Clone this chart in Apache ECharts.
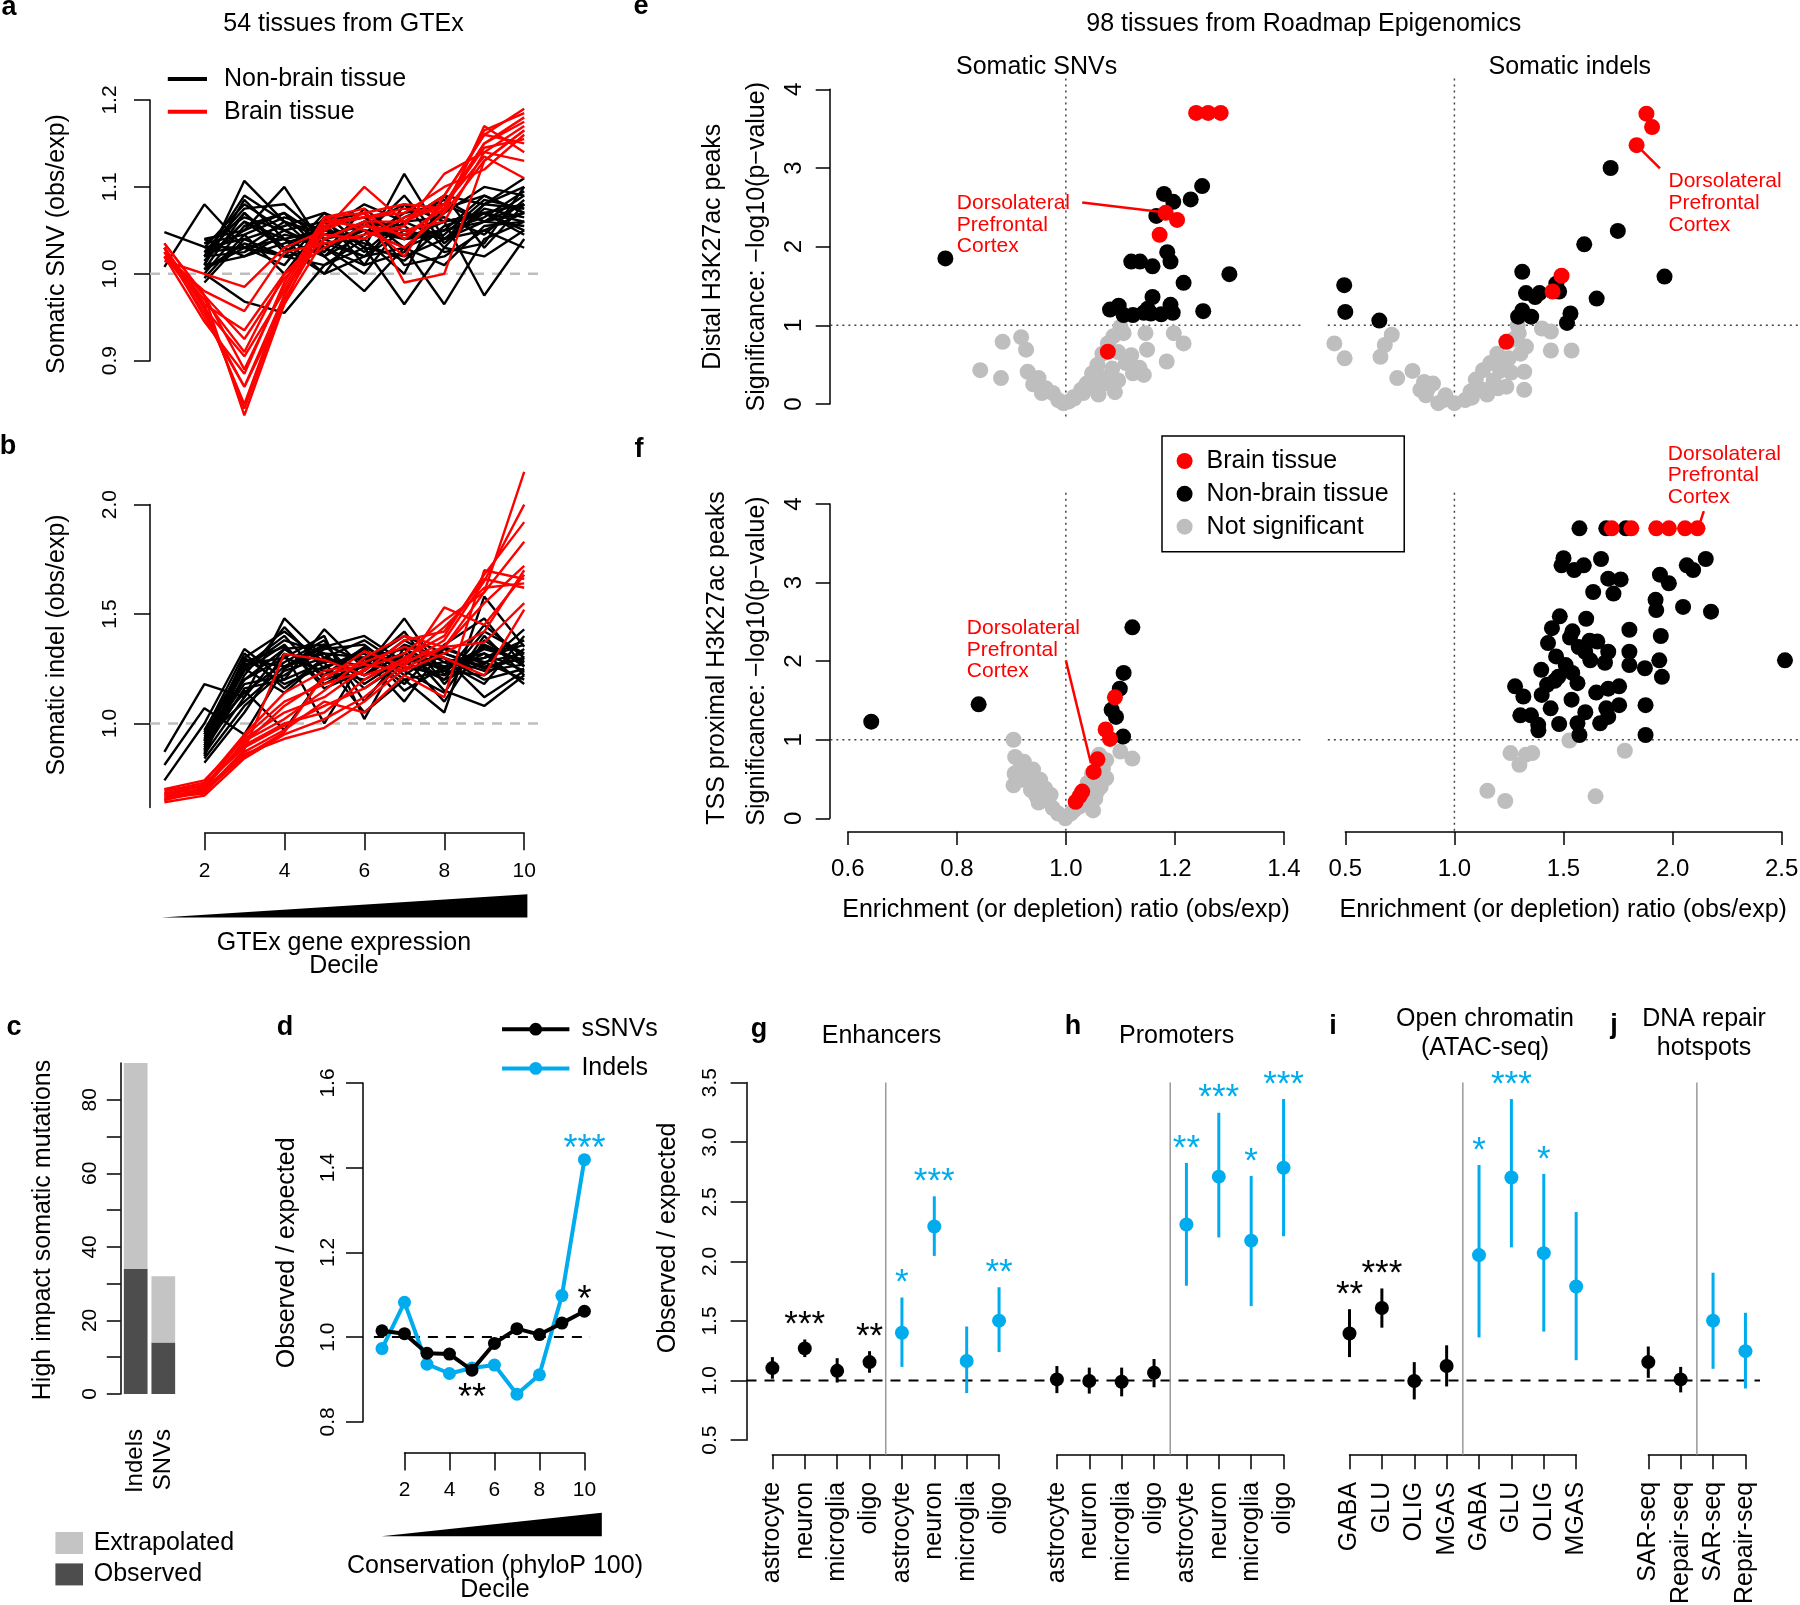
<!DOCTYPE html>
<html>
<head>
<meta charset="utf-8">
<title>Somatic mutations - expression, conservation and regulatory elements</title>
<script src="https://cdn.jsdelivr.net/npm/echarts@6/dist/echarts.min.js"></script>
<style>
  html, body { margin: 0; padding: 0; background: #fff; }
  #main { width: 1800px; height: 1605px; }
</style>
</head>
<body>
<div id="main"></div>
<script>
const FONT = '"Liberation Sans", Arial, Helvetica, sans-serif';
const RED = '#ff0000';
const BLUE = '#00acee';
const GREY = '#bebebe';

// ---------- a / b : 54 GTEx tissues, expression deciles ----------
const deciles = [1, 2, 3, 4, 5, 6, 7, 8, 9, 10];
const snvTicks = [0.9, 1.0, 1.1, 1.2];
const indelTicks = [1.0, 1.5, 2.0];
const decileTicks = [2, 4, 6, 8, 10];

const snvBrain = [
  [1.035, 0.975, 0.837, 0.965, 1.04, 1.06, 1.06, 1.09, 1.16, 1.19],
  [1.03, 0.965, 0.845, 0.97, 1.05, 1.07, 1.04, 1.08, 1.15, 1.18],
  [1.025, 0.955, 0.87, 0.975, 1.06, 1.055, 1.05, 1.06, 1.14, 1.17],
  [1.02, 0.945, 0.885, 0.99, 1.065, 1.05, 1.03, 1.07, 1.13, 1.165],
  [1.03, 0.96, 0.905, 0.98, 1.055, 1.065, 1.07, 1.10, 1.12, 1.16],
  [1.025, 0.97, 0.91, 1.0, 1.045, 1.04, 1.065, 1.08, 1.145, 1.155],
  [1.035, 0.975, 0.925, 0.995, 1.04, 1.06, 1.02, 1.09, 1.16, 1.15],
  [1.02, 0.98, 0.957, 1.025, 1.035, 1.045, 1.055, 1.115, 1.14, 1.13],
  [1.015, 1.0, 0.985, 1.03, 1.05, 1.10, 1.06, 1.08, 1.135, 1.11],
  [1.03, 0.95, 0.87, 0.965, 1.065, 1.075, 0.99, 1.0, 1.13, 1.165],
  [1.025, 0.975, 0.89, 0.985, 1.06, 1.065, 1.075, 1.07, 1.17, 1.14],
  [1.02, 0.965, 0.935, 1.0, 1.03, 1.055, 1.045, 1.075, 1.15, 1.175],
  [1.03, 0.96, 0.85, 0.975, 1.065, 1.07, 1.08, 1.075, 1.165, 1.185]
];
const snvNonBrain = [
  [1.048, 1.031, 1.03, 1.02, 1.03, 1.05, 1.04, 1.06, 1.07, 1.08],
  [1.008, 1.08, 1.03, 1.04, 1.02, 1.06, 1.05, 1.04, 1.06, 1.07],
  [null, 1.01, 1.107, 1.06, 1.04, 1.02, 1.03, 1.05, 1.06, 1.09],
  [null, 1.02, 1.05, 1.10, 1.03, 1.01, 1.08, 1.06, 1.07, 1.06],
  [null, 1.0, 0.968, 0.955, 1.01, 1.03, 1.02, 1.04, 1.05, 1.07],
  [null, 1.03, 1.08, 1.05, 1.06, 1.03, 1.115, 1.04, 1.08, 1.10],
  [null, 1.015, 1.06, 1.04, 1.05, 1.08, 1.06, 1.09, 1.08, 1.11],
  [null, 0.99, 1.04, 1.02, 1.07, 1.03, 0.965, 1.03, 1.02, 1.05],
  [null, 1.005, 1.03, 1.06, 1.02, 0.98, 1.03, 0.965, 1.04, 1.06],
  [null, 1.02, 1.07, 1.03, 1.0, 1.02, 1.05, 1.06, 0.975, 1.04],
  [null, 1.04, 1.05, 1.07, 1.04, 1.06, 1.04, 1.05, 1.09, 1.07],
  [null, 1.01, 1.02, 1.035, 1.05, 1.04, 1.07, 1.08, 1.06, 1.08],
  [null, 1.025, 1.075, 1.08, 1.04, 1.05, 1.03, 1.07, 1.10, 1.09],
  [null, 0.995, 1.045, 1.0, 1.06, 1.07, 1.01, 1.02, 1.05, 1.03],
  [null, 1.035, 1.065, 1.05, 1.03, 1.0, 1.06, 1.04, 1.07, 1.05],
  [null, 1.02, 1.09, 1.06, 1.045, 1.055, 1.08, 1.03, 1.08, 1.075],
  [null, 1.005, 1.035, 1.02, 1.01, 1.04, 1.0, 1.09, 1.03, 1.08],
  [null, 1.03, 1.04, 1.055, 1.07, 1.05, 1.045, 1.05, 1.065, 1.095],
  [null, 1.015, 1.06, 1.03, 1.055, 1.065, 1.03, 1.01, 1.055, 1.06],
  [null, 1.04, 1.02, 1.045, 1.035, 1.02, 1.06, 1.065, 1.045, 1.085],
  [null, 1.0, 1.055, 1.07, 1.02, 1.045, 1.09, 1.035, 1.075, 1.065],
  [null, 1.025, 1.03, 1.01, 1.065, 1.01, 1.025, 1.075, 1.09, 1.07],
  [null, 1.01, 1.085, 1.04, 1.0, 1.06, 1.055, 1.025, 1.035, 1.10],
  [null, 1.035, 1.045, 1.065, 1.05, 1.035, 1.015, 1.055, 1.07, 1.045],
  [null, 1.02, 1.025, 1.05, 1.025, 1.075, 1.04, 1.045, 1.085, 1.075],
  [null, 1.005, 1.07, 1.025, 1.055, 1.025, 1.065, 1.085, 1.06, 1.055]
];
const indelBrain = [
  [0.66, 0.70, 0.86, 0.93, 0.98, 1.10, 1.25, 1.35, 1.60, 2.15],
  [0.64, 0.67, 0.84, 0.95, 1.02, 1.12, 1.27, 1.38, 1.65, 2.00],
  [0.68, 0.72, 0.90, 1.00, 1.05, 1.20, 1.30, 1.40, 1.68, 1.92],
  [0.70, 0.74, 0.93, 1.05, 1.12, 1.25, 1.32, 1.47, 1.60, 1.83],
  [0.67, 0.69, 0.88, 1.318, 1.29, 1.22, 1.28, 1.35, 1.55, 1.72],
  [0.65, 0.71, 0.91, 1.08, 1.20, 1.33, 1.26, 1.53, 1.45, 1.68],
  [0.69, 0.73, 0.95, 1.14, 1.24, 1.28, 1.35, 1.30, 1.22, 1.52],
  [0.66, 0.68, 0.87, 0.97, 1.10, 1.05, 1.22, 1.12, 1.70, 1.66],
  [0.68, 0.70, 0.92, 1.02, 1.15, 1.30, 1.40, 1.35, 1.37, 1.55],
  [0.67, 0.72, 0.89, 0.99, 1.08, 1.16, 1.29, 1.44, 1.62, 1.64],
  [0.65, 0.69, 0.85, 0.96, 1.22, 1.27, 1.24, 1.32, 1.42, 1.70],
  [0.70, 0.71, 0.94, 1.10, 1.18, 1.24, 1.38, 1.42, 1.66, 1.62]
];
const indelNonBrain = [
  [0.87, 1.18, 1.12, 1.48, 1.30, 1.22, 1.32, 1.25, 1.35, 1.28],
  [0.81, 1.07, 0.95, 1.25, 1.35, 1.40, 1.28, 1.30, 1.20, 1.25],
  [0.74, 1.00, 1.34, 1.20, 1.43, 1.25, 1.48, 1.22, 1.45, 1.30],
  [null, 0.92, 1.30, 1.42, 1.28, 1.05, 1.20, 1.05, 1.58, 1.35],
  [null, 0.88, 1.25, 1.38, 1.32, 1.30, 1.10, 1.35, 1.27, 1.43],
  [null, 0.95, 1.20, 1.30, 1.40, 1.02, 1.35, 1.15, 1.08, 1.22],
  [null, 0.90, 1.15, 0.97, 1.22, 1.35, 1.25, 1.28, 1.32, 1.18],
  [null, 0.85, 1.28, 1.35, 1.18, 1.28, 1.40, 1.32, 1.25, 1.30],
  [null, 0.93, 1.10, 1.26, 1.36, 1.18, 1.30, 1.10, 1.38, 1.26],
  [null, 0.87, 1.22, 1.44, 1.25, 1.34, 1.15, 1.26, 1.30, 1.38],
  [null, 0.96, 1.32, 1.16, 1.30, 1.22, 1.36, 1.30, 1.12, 1.24],
  [null, 0.82, 1.05, 1.32, 1.00, 1.30, 1.28, 1.20, 1.42, 1.32],
  [null, 0.91, 1.18, 1.22, 1.34, 1.36, 1.22, 1.34, 1.28, 1.20],
  [null, 0.89, 1.26, 1.40, 1.20, 1.26, 1.42, 1.18, 1.36, 1.28],
  [null, 0.94, 1.14, 1.28, 1.38, 1.10, 1.32, 1.24, 1.22, 1.34],
  [null, 0.86, 1.30, 1.18, 1.26, 1.32, 1.18, 1.36, 1.48, 1.26],
  [null, 0.92, 1.24, 1.36, 1.16, 1.24, 1.38, 1.28, 1.18, 1.40],
  [null, 0.84, 1.08, 1.24, 1.30, 1.38, 1.26, 1.22, 1.32, 1.24],
  [null, 0.97, 1.27, 1.30, 1.24, 1.20, 1.30, 1.32, 1.26, 1.30],
  [null, 0.90, 1.20, 1.34, 1.36, 1.28, 1.24, 1.14, 1.40, 1.22],
  [null, 0.88, 1.16, 1.20, 1.28, 1.30, 1.34, 1.26, 1.30, 1.36],
  [null, 0.93, 1.29, 1.26, 1.32, 1.16, 1.28, 1.30, 1.24, 1.27],
  [null, 0.86, 1.12, 1.34, 1.22, 1.34, 1.20, 1.24, 1.34, 1.29],
  [null, 0.95, 1.25, 1.14, 1.30, 1.26, 1.32, 1.20, 1.28, 1.32]
];

// ---------- c : high impact somatic mutations ----------
const mutationTypes = ['Indels', 'SNVs'];
const highImpactObserved = [34, 14];
const highImpactExtrapolated = [56, 18];
const countTicks = [0, 10, 20, 30, 40, 50, 60, 70, 80];
const countLabels = [0, 20, 40, 60, 80];

// ---------- d : conservation deciles ----------
const consSnv = [1.015, 1.008, 0.962, 0.960, 0.922, 0.985, 1.020, 1.006, 1.033, 1.061];
const consIndel = [0.973, 1.082, 0.936, 0.914, 0.927, 0.934, 0.865, 0.911, 1.098, 1.419];
const consSnvStars = ['', '', '', '', '**', '', '', '', '', '*'];
const consIndelStars = ['', '', '', '', '', '', '', '', '', '***'];
const consTicks = [0.8, 1.0, 1.2, 1.4, 1.6];

// ---------- e / f : 98 Roadmap tissues, [ratio, -log10 p] ----------
const ratioTicksSnv = [0.6, 0.8, 1.0, 1.2, 1.4];
const ratioTicksIndel = [0.5, 1.0, 1.5, 2.0, 2.5];
const sigTicks = [0, 1, 2, 3, 4];

const distalSnvBrain = [[1.239, 3.7], [1.261, 3.7], [1.284, 3.7], [1.183, 2.43], [1.204, 2.34], [1.172, 2.15], [1.077, 0.665]];
const distalSnvNonBrain = [[0.779, 1.85], [1.180, 2.67], [1.197, 2.57], [1.229, 2.60], [1.250, 2.77], [1.166, 2.39], [1.186, 1.93],
  [1.192, 1.81], [1.120, 1.81], [1.136, 1.81], [1.159, 1.75], [1.216, 1.54], [1.300, 1.65], [1.159, 1.36], [1.081, 1.20],
  [1.097, 1.25], [1.123, 1.13], [1.143, 1.16], [1.156, 1.15], [1.192, 1.26], [1.196, 1.16], [1.252, 1.18], [1.150, 1.21],
  [1.175, 1.14], [1.106, 1.13]];
const distalSnvNs = [[0.884, 0.79], [0.918, 0.85], [0.927, 0.69], [0.843, 0.43], [0.881, 0.33], [0.930, 0.41], [0.950, 0.33],
  [0.963, 0.20], [0.976, 0.14], [0.986, 0.05], [0.995, 0.01], [1.005, 0.03], [1.015, 0.09], [1.028, 0.18], [1.038, 0.26],
  [1.048, 0.39], [1.058, 0.50], [1.067, 0.64], [1.077, 0.77], [1.087, 0.86], [1.100, 0.98], [1.106, 0.90], [1.096, 0.66],
  [1.110, 0.52], [1.123, 0.39], [1.143, 0.37], [1.146, 0.90], [1.149, 0.69], [1.185, 0.54], [1.198, 0.90], [1.216, 0.77],
  [1.077, 0.26], [1.051, 0.22], [1.032, 0.14], [1.015, 0.07], [1.064, 0.34], [1.096, 0.30], [0.956, 0.14], [0.940, 0.25],
  [1.085, 0.45], [1.120, 0.62], [1.135, 0.46], [1.090, 0.15], [1.060, 0.12]];

const distalIndelBrain = [[1.880, 3.69], [1.906, 3.52], [1.835, 3.29], [1.491, 1.63], [1.450, 1.43], [1.238, 0.79]];
const distalIndelNonBrain = [[1.716, 3.0], [1.749, 2.20], [1.595, 2.03], [1.963, 1.62], [1.311, 1.68], [1.467, 1.53], [1.328, 1.41],
  [1.390, 1.41], [1.480, 1.43], [1.652, 1.34], [1.311, 1.19], [1.292, 1.11], [1.352, 1.11], [1.532, 1.15], [1.516, 1.03],
  [0.495, 1.51], [0.500, 1.17], [0.656, 1.06], [1.370, 1.36]];
const distalIndelNs = [[0.45, 0.77], [0.497, 0.58], [0.713, 0.88], [0.681, 0.75], [0.661, 0.60], [0.738, 0.33], [0.808, 0.42],
  [0.861, 0.28], [0.902, 0.26], [0.844, 0.18], [0.869, 0.11], [0.926, 0.01], [0.959, 0.11], [1.0, 0.01], [1.049, 0.05],
  [1.074, 0.16], [1.131, 0.18], [1.098, 0.31], [1.131, 0.43], [1.164, 0.52], [1.197, 0.64], [1.23, 0.55], [1.238, 0.22],
  [1.26, 0.40], [1.295, 0.90], [1.303, 0.64], [1.328, 0.73], [1.320, 0.41], [1.320, 0.18], [1.401, 0.96], [1.442, 0.92],
  [1.442, 0.68], [1.537, 0.68], [1.18, 0.30], [1.21, 0.42], [1.25, 0.58], [1.15, 0.12], [1.27, 0.82], [1.29, 1.0],
  [0.88, 0.20], [0.95, 0.05], [1.08, 0.08], [1.20, 0.20]];

const tssSnvBrain = [[1.090, 1.54], [1.073, 1.13], [1.081, 1.01], [1.058, 0.75], [1.051, 0.59], [1.030, 0.34], [1.018, 0.21], [1.025, 0.28]];
const tssSnvNonBrain = [[0.643, 1.23], [0.840, 1.45], [1.122, 2.43], [1.106, 1.85], [1.099, 1.65], [1.084, 1.38], [1.092, 1.29], [1.105, 1.04]];
const tssSnvNs = [[0.904, 1.0], [0.907, 0.78], [0.923, 0.72], [0.906, 0.57], [0.904, 0.42], [0.940, 0.62], [0.953, 0.49],
  [0.920, 0.49], [0.936, 0.36], [0.946, 0.28], [0.959, 0.23], [0.972, 0.30], [0.976, 0.13], [0.986, 0.06], [0.999, 0.0],
  [1.009, 0.06], [1.025, 0.15], [1.045, 0.19], [1.054, 0.25], [1.064, 0.40], [1.074, 0.51], [1.048, 0.57], [1.061, 0.81],
  [1.074, 0.74], [1.100, 0.85], [1.122, 0.76], [1.040, 0.45], [0.946, 0.45], [1.035, 0.35], [1.058, 0.35], [0.930, 0.55],
  [0.962, 0.38], [1.015, 0.10], [1.068, 0.63], [0.915, 0.62], [0.950, 0.20], [1.050, 0.10]];

const tssIndelBrain = [[1.721, 3.69], [1.811, 3.69], [1.925, 3.69], [1.983, 3.69], [2.057, 3.69], [2.114, 3.69]];
const tssIndelNonBrain = [[1.573, 3.69], [1.696, 3.69], [1.786, 3.69],
  [1.500, 3.31], [1.491, 3.22], [1.549, 3.16], [1.593, 3.22], [1.672, 3.30], [1.705, 3.05], [1.762, 3.04], [1.636, 2.88],
  [1.729, 2.86], [1.942, 3.10], [1.983, 2.99], [2.065, 3.22], [2.094, 3.16], [2.152, 3.30], [1.922, 2.78], [1.925, 2.65],
  [2.048, 2.69], [2.176, 2.63], [1.483, 2.57], [1.604, 2.54], [1.447, 2.42], [1.541, 2.38], [1.802, 2.40], [1.946, 2.32],
  [1.429, 2.23], [1.570, 2.18], [1.655, 2.25], [1.705, 2.12], [1.466, 2.06], [1.599, 2.12], [1.623, 2.01], [1.802, 2.12],
  [1.802, 1.95], [1.873, 1.91], [1.939, 2.01], [1.951, 1.80], [2.515, 2.01], [1.398, 1.89], [1.476, 1.80], [1.540, 1.85],
  [1.564, 1.72], [1.425, 1.70], [1.278, 1.68], [1.316, 1.55], [1.400, 1.57], [1.537, 1.51], [1.705, 1.65], [1.755, 1.68],
  [1.441, 1.40], [1.302, 1.31], [1.351, 1.31], [1.384, 1.19], [1.385, 1.12], [1.564, 1.21], [1.573, 1.06], [1.696, 1.40],
  [1.755, 1.44], [1.705, 1.29], [1.668, 1.21], [1.876, 1.44], [1.876, 1.06], [1.530, 2.30], [1.620, 2.26], [1.460, 1.75],
  [1.510, 1.95], [1.650, 1.60], [1.480, 1.20], [1.600, 1.35], [1.690, 1.98]];
const tssIndelNs = [[1.527, 0.99], [1.257, 0.83], [1.298, 0.68], [1.328, 0.81], [1.357, 0.83], [1.781, 0.86], [1.151, 0.35], [1.233, 0.22], [1.647, 0.28]];

// ---------- g - j : cell types, [obs/exp, low, high] ----------
const oeTicks = [0.5, 1.0, 1.5, 2.0, 2.5, 3.0, 3.5];
const brainCells = ['astrocyte', 'neuron', 'microglia', 'oligo'];
const atacCells = ['GABA', 'GLU', 'OLIG', 'MGAS'];
const repairAssays = ['SAR-seq', 'Repair-seq'];

const enhSnv = [[1.105, 1.016, 1.197], [1.270, 1.197, 1.345], [1.082, 0.984, 1.188], [1.155, 1.066, 1.247]];
const enhIndel = [[1.401, 1.115, 1.697], [2.293, 2.046, 2.546], [1.164, 0.895, 1.454], [1.503, 1.240, 1.783]];
const promSnv = [[1.010, 0.895, 1.122], [0.997, 0.891, 1.109], [0.990, 0.868, 1.109], [1.066, 0.944, 1.181]];
const promIndel = [[2.309, 1.796, 2.826], [2.711, 2.201, 3.247], [2.174, 1.625, 2.717], [2.786, 2.211, 3.362]];
const atacSnv = [[1.395, 1.197, 1.599], [1.609, 1.444, 1.773], [0.997, 0.842, 1.155], [1.122, 0.951, 1.296]];
const atacIndel = [[2.053, 1.362, 2.809], [2.704, 2.118, 3.362], [2.069, 1.411, 2.734], [1.789, 1.171, 2.414]];
const repairSnv = [[1.155, 1.023, 1.286], [1.010, 0.901, 1.115]];
const repairIndel = [[1.503, 1.099, 1.905], [1.247, 0.934, 1.569]];

const enhSnvStars = ['', '***', '', '**'];
const enhIndelStars = ['*', '***', '', '**'];
const promSnvStars = ['', '', '', ''];
const promIndelStars = ['**', '***', '*', '***'];
const atacSnvStars = ['**', '***', '', ''];
const atacIndelStars = ['*', '***', '*', ''];
const repairSnvStars = ['', ''];
const repairIndelStars = ['', ''];

// ================= build the chart =================
const grids = [], xAxes = [], yAxes = [], series = [], graphics = [];

function fmt1(v) { return Number(v).toFixed(1); }

function addGrid(box) {
  grids.push(Object.assign({ containLabel: false, outerBoundsMode: 'none' }, box));
  return grids.length - 1;
}

function valAxis(grid, min, max, o) {
  o = o || {};
  if (o.hidden) return { type: 'value', gridIndex: grid, min, max, show: false, splitLine: { show: false } };
  return {
    type: 'value', gridIndex: grid, min, max, offset: o.offset || 0,
    splitLine: { show: false },
    axisLine: { show: true, onZero: false, lineStyle: { color: '#000', width: 1.5 } },
    axisTick: { show: true, inside: false, length: o.tickLen || 15, customValues: o.ticks,
      lineStyle: { color: '#000', width: 1.5 } },
    axisLabel: { show: true, customValues: o.labels || o.ticks, formatter: o.fmt || (v => String(v)),
      margin: o.margin, rotate: o.rotate || 0, fontSize: o.fontSize || 21, fontFamily: FONT, color: '#000' }
  };
}

// plot regions of a, b and d run from decile 0.64 to 10.36 (R's 4% padding)
const DEC_MIN = 0.64, DEC_MAX = 10.36;

// --- a
const gA = addGrid({ left: 150, top: 100, width: 388.6, height: 260.7 });
xAxes.push(valAxis(gA, DEC_MIN, DEC_MAX, { hidden: true }));
yAxes.push(valAxis(gA, 0.9, 1.2, { ticks: snvTicks, fmt: fmt1, tickLen: 16, margin: 29, rotate: 90 }));
// --- b
const gB = addGrid({ left: 150, top: 504.6, width: 388.6, height: 302.9 });
xAxes.push(valAxis(gB, DEC_MIN, DEC_MAX, { hidden: true }));
yAxes.push(valAxis(gB, 0.616, 2.0, { ticks: indelTicks, fmt: fmt1, tickLen: 16, margin: 29, rotate: 90 }));
// b: visible decile axis (2..10 only)
const gBx = addGrid({ left: 204.6, top: 504.6, width: 319.6, height: 302.9 });
xAxes.push(valAxis(gBx, 2, 10, { offset: 25.7, ticks: decileTicks, tickLen: 17, margin: 28 }));
yAxes.push(valAxis(gBx, 0.616, 2.0, { hidden: true }));
// --- c
const gC = addGrid({ left: 121.9, top: 1063, width: 55.2, height: 331 });
xAxes.push({ type: 'category', gridIndex: gC, data: mutationTypes,
  axisLine: { show: false }, axisTick: { show: false }, splitLine: { show: false },
  axisLabel: { interval: 0, rotate: 90, margin: 35, fontSize: 24, fontFamily: FONT, color: '#000' } });
yAxes.push(valAxis(gC, 0, 90, { offset: 1.3, ticks: countTicks, labels: countLabels, tickLen: 13.8, margin: 20, rotate: 90 }));
// --- d
const gD = addGrid({ left: 373.9, top: 1083, width: 218.6, height: 338.8 });
xAxes.push(valAxis(gD, DEC_MIN, DEC_MAX, { hidden: true }));
yAxes.push(valAxis(gD, 0.8, 1.6, { offset: 10.9, ticks: consTicks, fmt: fmt1, tickLen: 17, margin: 24.3, rotate: 90 }));
const gDx = addGrid({ left: 404.5, top: 1083, width: 179.9, height: 338.8 });
xAxes.push(valAxis(gDx, 2, 10, { offset: 31, ticks: decileTicks, tickLen: 17.6, margin: 26.7 }));
yAxes.push(valAxis(gDx, 0.8, 1.6, { hidden: true }));
// --- e (left / right)
const gEL = addGrid({ left: 847.8, top: 89.3, width: 436.1, height: 314.7 });
xAxes.push(valAxis(gEL, 0.6, 1.4, { hidden: true }));
yAxes.push(valAxis(gEL, 0, 4, { offset: 17.8, ticks: sigTicks, tickLen: 14.3, margin: 23.7, rotate: 90, fontSize: 24 }));
const gER = addGrid({ left: 1345.3, top: 89.3, width: 436.4, height: 314.7 });
xAxes.push(valAxis(gER, 0.5, 2.5, { hidden: true }));
yAxes.push(valAxis(gER, 0, 4, { hidden: true }));
// --- f (left / right)
const gFL = addGrid({ left: 847.8, top: 504, width: 436.1, height: 314.3 });
xAxes.push(valAxis(gFL, 0.6, 1.4, { offset: 13.4, ticks: ratioTicksSnv, fmt: fmt1, tickLen: 13.3, margin: 25.6, fontSize: 24 }));
yAxes.push(valAxis(gFL, 0, 4, { offset: 17.8, ticks: sigTicks, tickLen: 14.3, margin: 23.7, rotate: 90, fontSize: 24 }));
const gFR = addGrid({ left: 1345.3, top: 504, width: 436.4, height: 314.3 });
xAxes.push(valAxis(gFR, 0.5, 2.5, { offset: 13.4, ticks: ratioTicksIndel, fmt: fmt1, tickLen: 13.3, margin: 25.6, fontSize: 24 }));
yAxes.push(valAxis(gFR, 0, 4, { hidden: true }));

// --- g..j : one grid per x-axis segment, y shared
const STEP = 32.38;
const segments = [
  { left: 772.4, names: brainCells, snv: enhSnv, indel: enhIndel, snvStars: enhSnvStars, indelStars: enhIndelStars },
  { left: 1056.9, names: brainCells, snv: promSnv, indel: promIndel, snvStars: promSnvStars, indelStars: promIndelStars },
  { left: 1349.5, names: atacCells, snv: atacSnv, indel: atacIndel, snvStars: atacSnvStars, indelStars: atacIndelStars },
  { left: 1648.3, names: repairAssays, snv: repairSnv, indel: repairIndel, snvStars: repairSnvStars, indelStars: repairIndelStars }
];
const segGrids = segments.map((s, k) => {
  const n = s.names.length;
  const labels = s.names.concat(s.names);
  const idx = labels.map((_, i) => i);
  const g = addGrid({ left: s.left, top: 1082.6, width: (2 * n - 1) * STEP, height: 357.6 });
  xAxes.push(valAxis(g, 0, 2 * n - 1, { offset: 14.6, ticks: idx, tickLen: 14.5, margin: 27, rotate: 90, fontSize: 25,
    fmt: v => labels[Math.round(v)] }));
  yAxes.push(k === 0
    ? valAxis(g, 0.5, 3.5, { offset: 25.9, ticks: oeTicks, fmt: fmt1, tickLen: 15.9, margin: 25.7, rotate: 90 })
    : valAxis(g, 0.5, 3.5, { hidden: true }));
  return g;
});

// ---------- series helpers ----------
function onGrid(g, o) { return Object.assign({ xAxisIndex: g, yAxisIndex: g, silent: true, animation: false }, o); }

function decileLine(g, row, color, name) {
  return onGrid(g, { type: 'line', name, data: deciles.map((d, i) => [d, row[i]]), symbol: 'none', clip: false,
    lineStyle: { color, width: 2.4 }, itemStyle: { color }, z: color === RED ? 3 : 2 });
}
// straight reference / pointer line between two data points, not clipped to the grid
function segment(g, pts, style, z) {
  return onGrid(g, { type: 'custom', z: z || 1, data: [[pts[0][0], pts[0][1], pts[1][0], pts[1][1]]],
    renderItem: (params, api) => {
      const p0 = api.coord([api.value(0), api.value(1)]);
      const p1 = api.coord([api.value(2), api.value(3)]);
      return { type: 'line', shape: { x1: p0[0], y1: p0[1], x2: p1[0], y2: p1[1] },
        style: { stroke: style.color, lineWidth: style.width, lineDash: style.dash || null } };
    } });
}
function dots(g, data, color, name, z) {
  return onGrid(g, { type: 'scatter', name, data, symbol: 'circle', symbolSize: 16, clip: false,
    itemStyle: { color, opacity: 1 }, z });
}

// a, b
[[gA, snvNonBrain, snvBrain], [gB, indelNonBrain, indelBrain]].forEach(([g, other, brain]) => {
  series.push(segment(g, [[DEC_MIN, 1], [DEC_MAX, 1]], { color: GREY, width: 2.5, dash: [10, 8] }, 1));
  other.forEach(r => series.push(decileLine(g, r, '#000', 'Non-brain tissue')));
  brain.forEach(r => series.push(decileLine(g, r, RED, 'Brain tissue')));
});

// c
series.push(onGrid(gC, { type: 'bar', name: 'Observed', stack: 'hi', data: highImpactObserved, barWidth: 23.7,
  itemStyle: { color: '#4d4d4d' } }));
series.push(onGrid(gC, { type: 'bar', name: 'Extrapolated', stack: 'hi', data: highImpactExtrapolated, barWidth: 23.7,
  itemStyle: { color: '#c4c4c4' } }));

// d
series.push(segment(gD, [[DEC_MIN, 1], [10.25, 1]], { color: '#000', width: 2, dash: [10, 8] }, 1));
series.push(onGrid(gD, { type: 'line', name: 'Indels', data: deciles.map((d, i) => [d, consIndel[i]]), clip: false,
  symbol: 'circle', symbolSize: 13, showSymbol: true, lineStyle: { color: BLUE, width: 4 }, itemStyle: { color: BLUE }, z: 3 }));
series.push(onGrid(gD, { type: 'line', name: 'sSNVs', data: deciles.map((d, i) => [d, consSnv[i]]), clip: false,
  symbol: 'circle', symbolSize: 13, showSymbol: true, lineStyle: { color: '#000', width: 4 }, itemStyle: { color: '#000' }, z: 4 }));

function starText(txt, x, y, color, size) {
  return { type: 'text', x, y, style: { text: txt, x: 0, y: 0, fill: color, font: size + 'px ' + FONT,
    align: 'center', verticalAlign: 'middle', textAlign: 'center', textVerticalAlign: 'middle' } };
}
function consStars(values, stars, color) {
  return onGrid(gD, { type: 'custom', z: 6, data: values.map((v, i) => [deciles[i], v]),
    renderItem: (params, api) => {
      const s = stars[params.dataIndex];
      if (!s) return null;
      const v = api.value(1);
      const p = api.coord([api.value(0), v]);
      return starText(s, p[0], v < 1 ? p[1] + 29 : p[1] - 10, color, 36);
    } });
}
series.push(consStars(consSnv, consSnvStars, '#000'));
series.push(consStars(consIndel, consIndelStars, BLUE));

// e, f
const DOT = { color: '#444', width: 1.5, dash: [2, 4] };
[[gEL, 0.568, 1.432], [gER, 0.42, 2.58], [gFL, 0.568, 1.432], [gFR, 0.42, 2.58]].forEach(([g, x0, x1]) => {
  series.push(segment(g, [[1, -0.16], [1, 4.16]], DOT, 1));
  series.push(segment(g, [[x0, 1], [x1, 1]], DOT, 1));
});
[[gEL, distalSnvNs, distalSnvNonBrain, distalSnvBrain],
 [gER, distalIndelNs, distalIndelNonBrain, distalIndelBrain],
 [gFL, tssSnvNs, tssSnvNonBrain, tssSnvBrain],
 [gFR, tssIndelNs, tssIndelNonBrain, tssIndelBrain]].forEach(([g, ns, other, brain]) => {
  series.push(dots(g, ns, GREY, 'Not significant', 2));
  series.push(dots(g, other, '#000', 'Non-brain tissue', 3));
  series.push(dots(g, brain, RED, 'Brain tissue', 4));
});
// pointers from the labels to the dorsolateral prefrontal cortex points
const ARROW = { color: RED, width: 2.5 };
series.push(segment(gEL, [[1.03, 2.56], [1.175, 2.44]], ARROW, 5));
series.push(segment(gER, [[1.835, 3.29], [1.942, 2.995]], ARROW, 5));
series.push(segment(gFL, [[1.0, 2.01], [1.046, 0.70]], ARROW, 5));
series.push(segment(gFR, [[2.143, 3.91], [2.122, 3.73]], ARROW, 5));

// g - j
function ciSeries(g, rows, offset, color, stars) {
  return onGrid(g, { type: 'custom', z: 5, data: rows.map((r, i) => [i + offset, r[0], r[1], r[2]]),
    encode: { x: 0, y: [1, 2, 3] },
    renderItem: (params, api) => {
      const x = api.value(0);
      const c = api.coord([x, api.value(1)]);
      const lo = api.coord([x, api.value(2)]);
      const hi = api.coord([x, api.value(3)]);
      const kids = [
        { type: 'line', shape: { x1: lo[0], y1: lo[1], x2: hi[0], y2: hi[1] }, style: { stroke: color, lineWidth: 3 } },
        { type: 'circle', shape: { cx: c[0], cy: c[1], r: 7 }, style: { fill: color } }
      ];
      const s = stars[params.dataIndex];
      if (s) kids.push(starText(s, hi[0], hi[1] - 14, color, 35));
      return { type: 'group', children: kids };
    } });
}
segments.forEach((s, k) => {
  const g = segGrids[k];
  const n = s.names.length;
  if (k === 0) {
    // dashed reference line runs across all four blocks
    series.push(segment(g, [[-0.8, 1], [30.5, 1]], { color: '#000', width: 2, dash: [10, 8] }, 1));
  }
  series.push(segment(g, [[n - 0.5, 0.378], [n - 0.5, 3.5]], { color: '#999', width: 1.5 }, 1));
  series.push(ciSeries(g, s.snv, 0, '#000', s.snvStars));
  series.push(ciSeries(g, s.indel, n, BLUE, s.indelStars));
});

// ---------- text and decorations ----------
function txt(text, x, y, o) {
  o = o || {};
  graphics.push({ type: 'text', x, y, rotation: o.rot || 0, silent: true, z: 100,
    style: { text, x: 0, y: 0, fill: o.color || '#000',
      font: (o.bold ? 'bold ' : '') + (o.size || 25) + 'px ' + FONT,
      align: o.align || 'center', verticalAlign: o.valign || 'middle',
      textAlign: o.align || 'center', textVerticalAlign: o.valign || 'middle',
      lineHeight: o.lh } });
}
// panel letters (x, baseline)
[['a', 9, 17], ['b', 8, 456], ['c', 14, 1037], ['d', 285, 1037], ['e', 641, 16], ['f', 639, 459],
 ['g', 759, 1039], ['h', 1073, 1036], ['i', 1333, 1036], ['j', 1614, 1035]]
  .forEach(([l, x, b]) => txt(l, x, b - 9.4, { bold: true, size: 27 }));

txt('54 tissues from GTEx', 343.5, 24);
txt('98 tissues from Roadmap Epigenomics', 1303.7, 24);
txt('Somatic SNVs', 1036.6, 67.5);
txt('Somatic indels', 1569.8, 66.7);
txt('GTEx gene expression', 343.9, 943.2);
txt('Decile', 343.9, 966.4);
txt('Conservation (phyloP 100)', 495, 1566.5);
txt('Decile', 495, 1590);
txt('Enrichment (or depletion) ratio (obs/exp)', 1066, 910);
txt('Enrichment (or depletion) ratio (obs/exp)', 1563.2, 910);
txt('Enhancers', 881.5, 1036);
txt('Promoters', 1176.7, 1036);
txt('Open chromatin', 1485, 1019);
txt('(ATAC-seq)', 1485, 1048);
txt('DNA repair', 1704, 1019);
txt('hotspots', 1704, 1048);

const R90 = { rot: Math.PI / 2 };
txt('Somatic SNV (obs/exp)', 57, 244, R90);
txt('Somatic indel (obs/exp)', 57, 645, R90);
txt('High impact somatic mutations', 43.5, 1230, R90);
txt('Observed / expected', 286.7, 1252.8, R90);
txt('Distal H3K27ac peaks', 713.5, 246.7, R90);
txt('Significance: \u2212log10(p\u2212value)', 756.8, 246.7, R90);
txt('TSS proximal H3K27ac peaks', 717, 658, R90);
txt('Significance: \u2212log10(p\u2212value)', 756.8, 661, R90);
txt('Observed / expected', 667.7, 1237.9, R90);

const DLPFC = 'Dorsolateral\nPrefrontal\nCortex';
const redNote = { color: RED, size: 21, align: 'left', valign: 'top', lh: 21.7 };
txt(DLPFC, 956.8, 192.4, redNote);
txt(DLPFC, 1668.5, 170.8, redNote);
txt(DLPFC, 966.8, 617.4, redNote);
txt(DLPFC, 1667.8, 443.1, redNote);

// decile wedges
graphics.push({ type: 'polygon', silent: true, shape: { points: [[161.4, 917.4], [527.4, 894.2], [527.4, 917.4]] }, style: { fill: '#000' } });
graphics.push({ type: 'polygon', silent: true, shape: { points: [[381.6, 1536.3], [601.8, 1512.8], [601.8, 1536.3]] }, style: { fill: '#000' } });

const legendText = (pad) => ({ fontSize: 25, fontFamily: FONT, color: '#000', lineHeight: 25, padding: [0, 0, 0, pad] });

const option = {
  animation: false,
  backgroundColor: '#fff',
  textStyle: { fontFamily: FONT },
  grid: grids,
  xAxis: xAxes,
  yAxis: yAxes,
  legend: [
    { data: ['Non-brain tissue', 'Brain tissue'], orient: 'vertical', left: 167.8, top: 66.5, icon: 'rect',
      itemWidth: 39.2, itemHeight: 4, itemGap: 7.7, padding: 0, selectedMode: false, textStyle: legendText(12) },
    { data: ['Brain tissue', 'Non-brain tissue', 'Not significant'], orient: 'vertical', left: 1162, top: 436, icon: 'circle',
      itemWidth: 16, itemHeight: 16, itemGap: 7.85, padding: [12.5, 15.6, 12.5, 14.6], borderColor: '#000', borderWidth: 1.5,
      backgroundColor: '#fff', selectedMode: false, textStyle: legendText(9) },
    { data: ['sSNVs', 'Indels'], orient: 'vertical', left: 500, top: 1016.7, itemWidth: 67.4, itemHeight: 16, itemGap: 14.2,
      padding: 0, selectedMode: false, lineStyle: { width: 4 }, textStyle: legendText(7) },
    { data: ['Extrapolated', 'Observed'], orient: 'vertical', left: 55.4, top: 1530.5, icon: 'rect', itemWidth: 27.6,
      itemHeight: 22, itemGap: 6.4, padding: 0, selectedMode: false, textStyle: legendText(5.7) }
  ],
  graphic: graphics,
  series
};

const chart = echarts.init(document.getElementById('main'), null, { renderer: 'canvas', width: 1800, height: 1605 });
chart.setOption(option);
</script>
</body>
</html>
